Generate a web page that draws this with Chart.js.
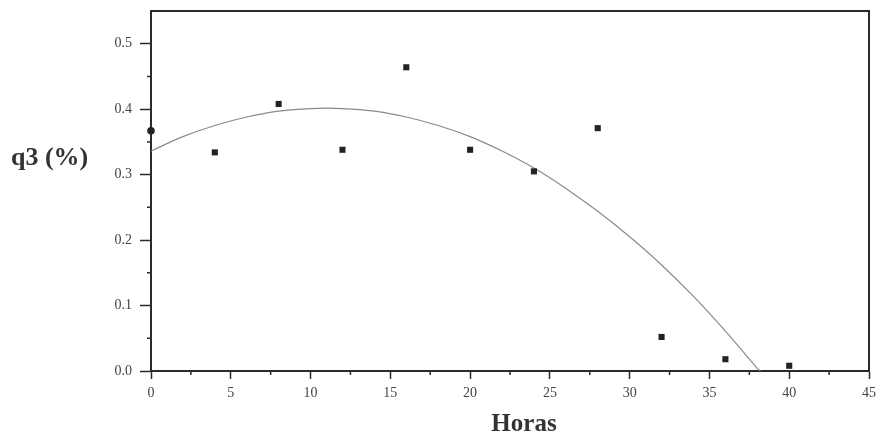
<!DOCTYPE html>
<html>
<head>
<meta charset="utf-8">
<script src="https://cdn.jsdelivr.net/npm/chart.js@4"></script>
<style>
  body { margin: 0; background: #fff; }
  #wrap { width: 876px; height: 440px; }
</style>
</head>
<body>
<div id="wrap"><canvas id="Graph"></canvas></div>
<script>
// measured points (horas, q3 %)
horas = [0, 4, 8, 12, 16, 20, 24, 28, 32, 36, 40];
q3 = [0.367, 0.334, 0.408, 0.338, 0.464, 0.338, 0.305, 0.371, 0.052, 0.018, 0.008];

// fitted curve
curveX = [0, 2, 4, 6, 8, 10, 12, 14, 16, 18, 20, 22, 24, 26, 28, 30, 32, 34, 36, 38, 38.2];
curveY = [0.336, 0.358, 0.375, 0.388, 0.397, 0.401, 0.401, 0.397, 0.388, 0.375, 0.358, 0.336, 0.310, 0.279, 0.244, 0.205, 0.162, 0.114, 0.061, 0.004, 0.0];

xTicks = [0, 5, 10, 15, 20, 25, 30, 35, 40, 45];
yTicks = [0.0, 0.1, 0.2, 0.3, 0.4, 0.5];
xMinor = [2.5, 7.5, 12.5, 17.5, 22.5, 27.5, 32.5, 37.5, 42.5];
yMinor = [0.05, 0.15, 0.25, 0.35, 0.45];

yTitle = "q3 (%)";
xTitle = "Horas";

points = [];
for (var i = 0; i < horas.length; i++) {
    points.push({x: horas[i], y: q3[i]});
}
curve = [];
for (var i = 0; i < curveX.length; i++) {
    curve.push({x: curveX[i], y: curveY[i]});
}
styles = horas.map(function (h, i) { return i == 0 ? "circle" : "rect"; });
radii = horas.map(function (h, i) { return i == 0 ? 3.8 : 4.3; });

var frame = {
    id: "frame",
    afterDraw: function (c) {
        var ctx = c.ctx, a = c.chartArea;
        var xs = c.scales.x, ys = c.scales.y;
        ctx.save();
        ctx.strokeStyle = "#2a2a2a";
        ctx.lineWidth = 2;
        ctx.beginPath();
        ctx.moveTo(a.left, a.top);
        ctx.lineTo(a.right, a.top);
        ctx.lineTo(a.right, a.bottom);
        ctx.stroke();
        // minor ticks
        ctx.lineWidth = 1.5;
        ctx.beginPath();
        yMinor.forEach(function (v) {
            var p = ys.getPixelForValue(v);
            ctx.moveTo(a.left - 4, p);
            ctx.lineTo(a.left, p);
        });
        xMinor.forEach(function (v) {
            var p = xs.getPixelForValue(v);
            ctx.moveTo(p, a.bottom);
            ctx.lineTo(p, a.bottom + 4);
        });
        ctx.stroke();
        // titles
        ctx.fillStyle = "#333";
        ctx.font = "bold 26px 'Liberation Serif'";
        ctx.textBaseline = "middle";
        ctx.textAlign = "left";
        ctx.fillText(yTitle, 11, 158);
        ctx.font = "bold 25px 'Liberation Serif'";
        ctx.textAlign = "center";
        ctx.fillText(xTitle, 524, 425);
        ctx.restore();
    }
};

var chart = new Chart("Graph", {
    type: "scatter",
    data: {
        datasets: [{
            data: points,
            pointStyle: styles,
            pointRadius: radii,
            backgroundColor: "#222",
            borderColor: "#222",
            borderWidth: 0,
            clip: false
        }, {
            data: curve,
            showLine: true,
            pointRadius: 0,
            borderColor: "#8a8a8a",
            borderWidth: 1.2,
            tension: 0.4
        }]
    },
    options: {
        responsive: true,
        maintainAspectRatio: false,
        animation: false,
        layout: {padding: {top: 11, right: 7, left: 0, bottom: 0}},
        plugins: {legend: {display: false}, tooltip: {enabled: false}},
        scales: {
            x: {
                type: "linear",
                min: 0,
                max: 45,
                afterFit: function (s) { s.height = 69; s.paddingLeft = 0; s.paddingRight = 0; },
                afterBuildTicks: function (s) {
                    s.ticks = xTicks.map(function (v) { return {value: v}; });
                },
                border: {display: true, color: "#2a2a2a", width: 2},
                grid: {drawOnChartArea: false, drawTicks: true, tickLength: 8, tickColor: "#2a2a2a", tickWidth: 1.5},
                ticks: {
                    padding: 6,
                    color: "#444",
                    font: {family: "'Liberation Serif'", size: 14}
                }
            },
            y: {
                type: "linear",
                min: 0,
                max: 0.55,
                afterFit: function (s) { s.width = 151; s.paddingTop = 0; s.paddingBottom = 0; },
                afterBuildTicks: function (s) {
                    s.ticks = yTicks.map(function (v) { return {value: v}; });
                },
                border: {display: true, color: "#2a2a2a", width: 2},
                grid: {drawOnChartArea: false, drawTicks: true, tickLength: 11, tickColor: "#2a2a2a", tickWidth: 1.5},
                ticks: {
                    padding: 8,
                    color: "#444",
                    font: {family: "'Liberation Serif'", size: 14},
                    callback: function (v) { return v.toFixed(1); }
                }
            }
        }
    },
    plugins: [frame]
});
</script>
</body>
</html>
